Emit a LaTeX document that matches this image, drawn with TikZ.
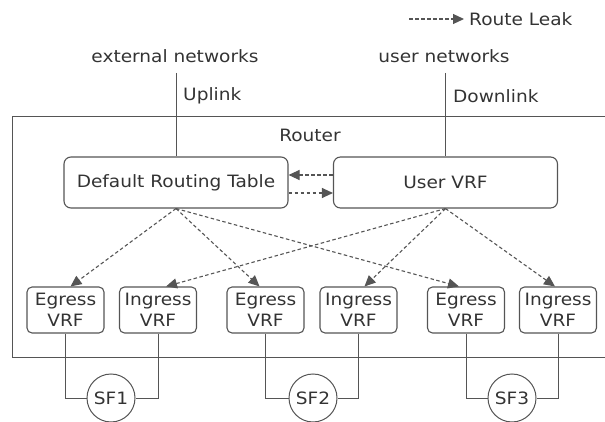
\documentclass[tikz,border=0pt]{standalone}
\usepackage{fontspec}
\setmainfont[FakeStretch=1.09]{DejaVu Sans}
\usetikzlibrary{arrows.meta}
\definecolor{ln}{HTML}{555555}
\definecolor{tx}{HTML}{333333}
\tikzset{
  txt/.style={text=tx,font=\fontsize{17}{20}\selectfont,inner sep=0pt},
  bigbox/.style={draw=ln,line width=1.1pt,rounded corners=7pt,minimum width=224pt,minimum height=51pt,inner sep=0pt,text=tx,font=\fontsize{17}{20}\selectfont},
  vrfbox/.style={draw=ln,line width=1.1pt,rounded corners=5pt,minimum width=77pt,minimum height=46pt,inner sep=0pt,align=center,text=tx,font=\fontsize{17}{20.5}\selectfont},
  sfnode/.style={draw=ln,line width=1pt,circle,minimum size=48pt,inner sep=0pt,text=tx,font=\fontsize{17}{20}\selectfont},
  leak/.style={draw=ln,line width=1.1pt,dash pattern=on 3.5pt off 2.5pt,-{Triangle[length=11pt,width=10pt]}},
  wire/.style={draw=ln,line width=1pt},
}
\begin{document}
\begin{tikzpicture}[x=1pt,y=-1pt]
\path[use as bounding box] (0,0) rectangle (605,422);
% router frame
\draw[wire] (605,117) -| (12,357) -- (605,357);
\node[txt] (router) at (310,135) {Router};
% legend
\coordinate (lg) at (409,19);
\node[txt,anchor=west] (legend) at (469,19) {Route Leak};
\draw[leak] (lg) -- ([xshift=-5pt]legend.west);
% top texts
\node[txt] (ext) at (175,56) {external networks};
\node[txt] (usr) at (444,56) {user networks};
% main boxes
\node[bigbox] (drt) at (176,182.5) {Default Routing Table};
\node[bigbox] (uvrf) at (445.5,182.5) {User VRF};
\coordinate (upa) at (176,73);
\coordinate (dna) at (445.5,73);
\draw[wire] (upa) -- (drt.north);
\draw[wire] (dna) -- (uvrf.north);
\node[txt,anchor=west] (uplink) at (183,96) {Uplink};
\node[txt,anchor=west] (downlink) at (453,96) {Downlink};
% leaks between main boxes
\draw[leak] ([yshift=7.5pt]uvrf.west) -- ([yshift=7.5pt]drt.east);
\draw[leak] ([yshift=-10.5pt]drt.east) -- ([yshift=-10.5pt]uvrf.west);
% vrf boxes
\node[vrfbox] (e1) at (65.5,310) {Egress\\VRF};
\node[vrfbox] (i1) at (158,310) {Ingress\\VRF};
\node[vrfbox] (e2) at (265.5,310) {Egress\\VRF};
\node[vrfbox] (i2) at (358.5,310) {Ingress\\VRF};
\node[vrfbox] (e3) at (466,310) {Egress\\VRF};
\node[vrfbox] (i3) at (558,310) {Ingress\\VRF};
% leak arrows down
\draw[leak] (drt.south) -- ([xshift=5pt]e1.north);
\draw[leak] (drt.south) -- ([xshift=-6pt]e2.north);
\draw[leak] (drt.south) -- ([xshift=-7pt]e3.north);
\draw[leak] (uvrf.south) -- ([xshift=8pt]i1.north);
\draw[leak] (uvrf.south) -- ([xshift=6pt]i2.north);
\draw[leak] (uvrf.south) -- ([xshift=-3pt]i3.north);
% service functions
\node[sfnode] (sf1) at (111,398) {SF1};
\node[sfnode] (sf2) at (313,398) {SF2};
\node[sfnode] (sf3) at (512,398) {SF3};
\draw[wire] (e1.south) |- (sf1.west);
\draw[wire] (i1.south) |- (sf1.east);
\draw[wire] (e2.south) |- (sf2.west);
\draw[wire] (i2.south) |- (sf2.east);
\draw[wire] (e3.south) |- (sf3.west);
\draw[wire] (i3.south) |- (sf3.east);
\end{tikzpicture}
\end{document}
